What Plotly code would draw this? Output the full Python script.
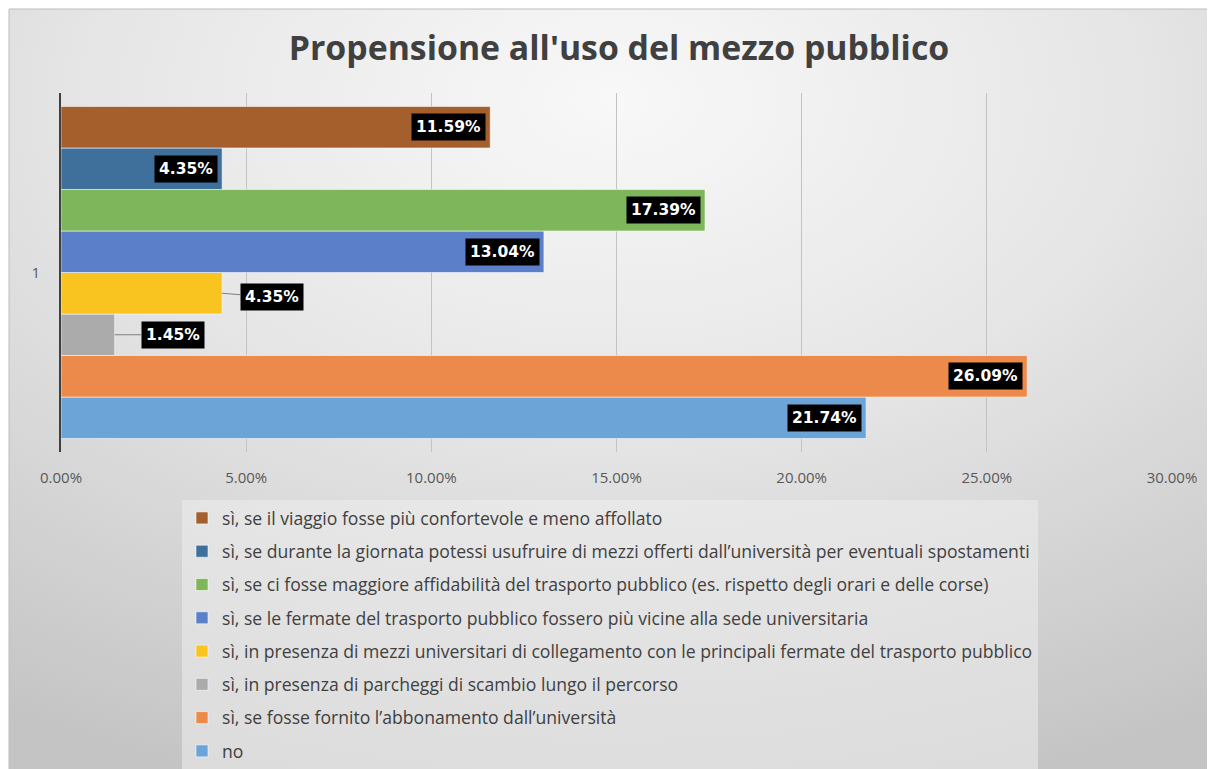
import base64
import plotly.graph_objects as go

# ---------------- data ----------------
categories = ["1"]
# series listed from bottom bar to top bar (Excel order)
series_names = [
    "no",
    "sì, se fosse fornito l’abbonamento dall’università",
    "sì, in presenza di parcheggi di scambio lungo il percorso",
    "sì, in presenza di mezzi universitari di collegamento con le principali fermate del trasporto pubblico",
    "sì, se le fermate del trasporto pubblico fossero più vicine alla sede universitaria",
    "sì, se ci fosse maggiore affidabilità del trasporto pubblico (es. rispetto degli orari e delle corse)",
    "sì, se durante la giornata potessi usufruire di mezzi offerti dall’università per eventuali spostamenti",
    "sì, se il viaggio fosse più confortevole e meno affollato",
]
values = [0.2174, 0.2609, 0.0145, 0.0435, 0.1304, 0.1739, 0.0435, 0.1159]
x_tickvals = [0, 0.05, 0.10, 0.15, 0.20, 0.25, 0.30]
x_ticktext = ["0.00%", "5.00%", "10.00%", "15.00%", "20.00%", "25.00%", "30.00%"]

# ---------------- style ----------------
colors = ["#6CA4D8", "#EB8A4B", "#ABABAB", "#F9C41F",
          "#5B80C9", "#7EB65C", "#3F6F9B", "#A55F2D"]
# label placement: None = inside end, (dx, dy) = outside with leader line (pixels)
label_offsets = [None, None, (58, 0), (50, 4), None, None, None, None]

OFF = 8  # browser default body margin
W, H = 1215 - OFF, 769 - OFF
L, R, T, B = 61 - OFF, 43, 93 - OFF, 317
PW, PH = W - L - R, H - T - B
BARGAP = 0.075


def px2x(px):
    return (px - OFF - L) / PW


def py2y(py):
    return (H - B - (py - OFF)) / PH


fig = go.Figure()
n = len(values)
for i, (name, v, c) in enumerate(zip(series_names, values, colors)):
    fig.add_trace(go.Bar(
        y=[0], x=[v], orientation="h", name=name,
        marker=dict(color=c, line=dict(color="rgba(255,255,255,0.55)", width=1)),
        legendgroup=f"g{i}", legendrank=100 + n - i, hoverinfo="x+name",
    ))

annotations = []
slot = (1 - BARGAP) / n
for i, v in enumerate(values):
    yc = -(1 - BARGAP) / 2 + (i + 0.5) * slot
    txt = f"{v * 100:.2f}%"
    common = dict(text=txt, y=yc, x=v, xref="x", yref="y",
                  bgcolor="#000000", borderpad=4,
                  font=dict(family="DejaVu Sans", size=15.5, color="white", weight="bold"))
    off = label_offsets[i]
    if off is None:
        annotations.append(dict(**common, showarrow=False, xanchor="right",
                                yanchor="middle", xshift=-4))
    else:
        annotations.append(dict(**common, showarrow=True, arrowhead=0, arrowwidth=1,
                                arrowcolor="#7F7F7F", standoff=0,
                                ax=off[0], ay=off[1]))

# radial gradient background (Excel style)
svg = f'''<svg xmlns="http://www.w3.org/2000/svg" width="{W}" height="{H}" viewBox="0 0 100 100" preserveAspectRatio="none">
<defs><radialGradient id="g" cx="0.5" cy="0.12" r="0.95" fx="0.5" fy="0.12">
<stop offset="0" stop-color="#f8f8f8"/><stop offset="0.45" stop-color="#e6e6e6"/><stop offset="1" stop-color="#c4c4c4"/>
</radialGradient></defs><rect x="0" y="0" width="100" height="100" fill="url(#g)"/></svg>'''
src = "data:image/svg+xml;base64," + base64.b64encode(svg.encode()).decode()

fig.update_layout(
    width=W, height=H,
    margin=dict(l=L, r=R, t=T, b=B, autoexpand=False),
    paper_bgcolor="white", plot_bgcolor="rgba(0,0,0,0)",
    barmode="group", bargap=BARGAP, bargroupgap=0,
    font=dict(family="Open Sans", color="#595959"),
    title=dict(text="<b>Propensione all'uso del mezzo pubblico</b>",
               x=px2x(619), xref="paper", xanchor="center",
               y=1 - (48 - OFF) / H, yref="container", yanchor="middle",
               font=dict(family="Open Sans", size=33.8, color="#404040")),
    xaxis=dict(range=[0, 0.30], tickvals=x_tickvals, ticktext=x_ticktext,
               showgrid=True, gridcolor="#C3C3C3", gridwidth=1, zeroline=False,
               showline=False, ticks="outside", ticklen=12, tickcolor="rgba(0,0,0,0)",
               tickfont=dict(size=15, color="#595959"), fixedrange=True),
    yaxis=dict(range=[-0.5, 0.5], tickvals=[0], ticktext=categories,
               showgrid=False, zeroline=False, showline=True, linecolor="#404040",
               linewidth=2, ticks="outside", ticklen=16, tickcolor="rgba(0,0,0,0)",
               tickfont=dict(size=15, color="#595959"), fixedrange=True),
    legend=dict(x=px2x(182), y=py2y(500), xanchor="left", yanchor="top",
                traceorder="grouped", tracegroupgap=7.4,
                bgcolor="rgba(238,238,238,0.55)",
                font=dict(family="Open Sans", size=17.6, color="#404040")),
    annotations=annotations,
    images=[dict(source=src, xref="paper", yref="paper",
                 x=px2x(9), y=py2y(9), sizex=(W + OFF - 9) / PW, sizey=(H + OFF - 9) / PH,
                 sizing="stretch", layer="below", xanchor="left", yanchor="top")],
    shapes=[dict(type="rect", xref="paper", yref="paper",
                 x0=px2x(9), x1=px2x(W + OFF + 5), y0=py2y(9), y1=py2y(H + OFF + 5),
                 line=dict(color="#BDBDBD", width=1), fillcolor="rgba(0,0,0,0)",
                 layer="below")],
)

fig.write_html("out.html")
